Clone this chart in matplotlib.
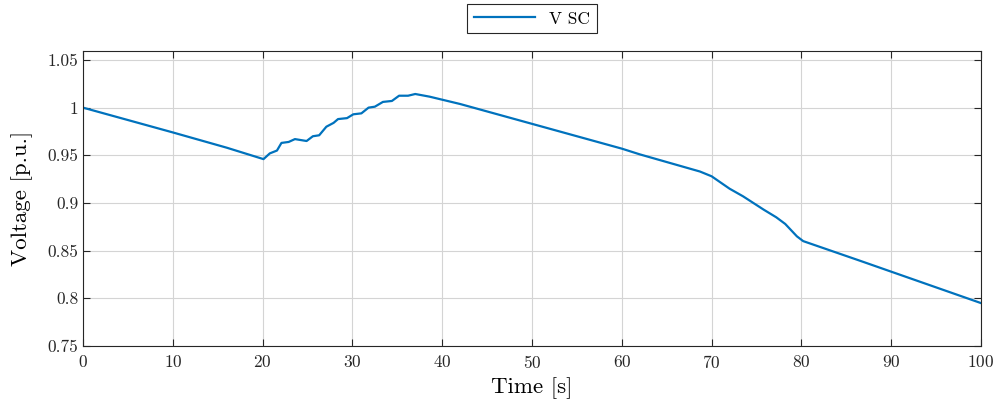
import matplotlib
matplotlib.use("Agg")
import matplotlib.pyplot as plt
from matplotlib.ticker import FuncFormatter

# Voltage of the supercapacitor
t = [0, 5, 10, 16, 20.1, 20.8, 21.6, 22.1, 22.9, 23.6, 24.9, 25.6, 26.3, 27.1,
     27.9, 28.4, 29.4, 30.1, 31.0, 31.8, 32.5, 33.4, 34.4, 35.2, 36.2, 37.0,
     38.6, 42.0, 50, 60, 62.0, 68.7, 70.0, 72.0, 73.5, 75.8, 77.2, 78.2, 79.5,
     80.2, 86.5, 100]
v_sc = [1.0, 0.987, 0.974, 0.958, 0.946, 0.952, 0.955, 0.963, 0.964, 0.967,
        0.965, 0.970, 0.971, 0.980, 0.984, 0.988, 0.989, 0.993, 0.994, 1.000,
        1.001, 1.006, 1.007, 1.0125, 1.0125, 1.0143, 1.0115, 1.0038, 0.983,
        0.957, 0.951, 0.933, 0.928, 0.915, 0.907, 0.893, 0.885, 0.878, 0.865,
        0.860, 0.8395, 0.795]

x_ticks = list(range(0, 101, 10))
y_ticks = [0.75, 0.8, 0.85, 0.9, 0.95, 1.0, 1.05]

plt.rcParams['font.family'] = 'cmr10'
plt.rcParams['axes.formatter.use_mathtext'] = True

fig = plt.figure(figsize=(9.98, 4.07), dpi=100)
ax = fig.add_axes([83 / 998, 1 - 346 / 407, 898 / 998, 295 / 407])

ax.plot(t, v_sc, color='#0072BD', linewidth=1.6, label='V SC')

ax.set_xlim(0, 100)
ax.set_ylim(0.75, 1.0594)
ax.set_xticks(x_ticks)
ax.set_yticks(y_ticks)
ax.yaxis.set_major_formatter(FuncFormatter(lambda val, pos: '%g' % val))
ax.tick_params(direction='in', top=True, right=True, labelsize=12.5,
               length=5, width=0.8, colors='#262626')
ax.tick_params(axis='x', pad=6)
ax.grid(True, color='#d4d4d4', linewidth=0.8)
for s in ax.spines.values():
    s.set_color('#262626')
    s.set_linewidth(0.8)

ax.set_xlabel('Time [s]', fontsize=16.5, labelpad=4)
ax.set_ylabel('Voltage [p.u.]', fontsize=16.5, labelpad=10)

leg = ax.legend(loc='lower center', bbox_to_anchor=(0.5, 1.03), fontsize=12.5,
                fancybox=False, edgecolor='#262626', framealpha=1,
                handlelength=3.5, borderpad=0.4)
leg.get_frame().set_linewidth(0.8)

fig.savefig('out.png', dpi=100)
